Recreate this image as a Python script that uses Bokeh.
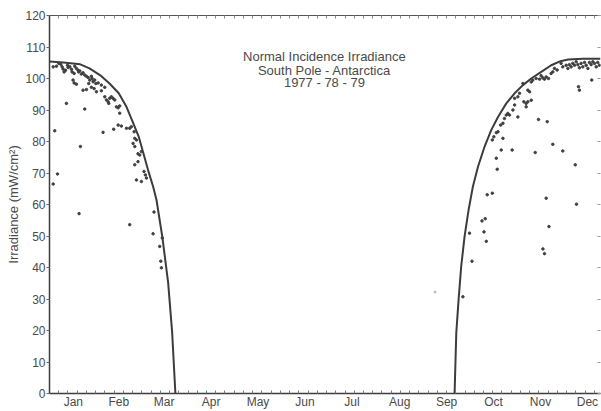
from bokeh.plotting import figure
from bokeh.models import Range1d, FixedTicker, LinearAxis, Label
from bokeh.embed import file_html
from bokeh.resources import INLINE

# ---- data ----
months = ["Jan", "Feb", "Mar", "Apr", "May", "Jun", "Jul", "Aug", "Sep", "Oct", "Nov", "Dec"]
month_mid_days = [15.5, 45, 74.5, 105, 135.5, 166, 196.5, 227.5, 258, 288.5, 319, 349.5]
y_ticks = [0, 10, 20, 30, 40, 50, 60, 70, 80, 90, 100, 110, 120]

title_lines = ["Normal Incidence Irradiance", "South Pole - Antarctica", "1977 - 78 - 79"]

# clear-sky model curve (autumn decline and spring rise)
curve_fall_day = [0, 9, 20, 26, 33, 39, 45, 50, 54, 58, 61, 64, 67.3, 69.5, 73.4, 77.1, 79.7, 81.8]
curve_fall_val = [105.4, 105.1, 104.5, 103.2, 101.0, 98.4, 95.3, 91.0, 86.3, 81.5, 76.3, 71.0, 65.7, 61.5, 49.4, 35.1, 19.3, 0]
curve_rise_day = [263.2, 264.3, 265.8, 267.5, 269.7, 272.3, 275.1, 278.4, 282.7, 287.0, 291.4, 296.8, 302.2,
                  307.6, 313.0, 319.5, 326.0, 332.0, 337.0, 346.6, 358]
curve_rise_val = [0, 19.3, 29.8, 40.4, 49.9, 58.3, 65.7, 72.0, 78.4, 83.6, 87.8, 92.1, 95.3,
                  97.9, 100.0, 102.1, 104.2, 105.5, 106.0, 106.3, 106.3]

# measured irradiance, January - March
obs_fall_day = [2.4, 4.5, 6.0, 7.3, 8.2, 8.8, 9.5, 10.4, 11.7, 12.1, 13.2, 14.3, 14.7, 16.0, 16.4,
                17.5, 18.6, 19.0, 19.7, 20.7, 21.8, 22.9, 24.0, 25.1, 26.2, 27.2, 27.7, 28.3, 29.4,
                30.1, 31.6, 33.7, 35.9, 15.3, 16.0, 17.5, 21.8, 24.0, 25.5, 27.2, 29.0, 30.5, 33.7,
                35.9, 37.0, 38.1, 38.5, 39.1, 40.2, 41.3, 42.4, 43.5, 44.6, 45.6, 45.6, 44.6, 46.7,
                50.0, 52.1, 53.2, 55.0, 55.4, 56.5, 54.3, 55.4, 57.5, 58.6, 59.7, 55.4, 57.5, 56.5,
                59.7, 61.4, 62.3, 63.0, 3.4, 11.0, 22.9, 20.1, 34.8, 41.7, 5.2, 2.4, 19.2, 52.1,
                67.9, 67.3, 73.3, 71.6, 72.3, 72.7]
obs_fall_val = [103.7, 103.9, 104.8, 104.5, 103.7, 103.0, 102.1, 102.6, 104.2, 103.5, 103.7, 102.9, 102.1, 101.6, 103.9,
                103.2, 102.6, 102.1, 102.4, 101.4, 101.8, 101.1, 100.7, 100.3, 99.5, 100.7, 100.0, 99.0, 99.5,
                98.4, 98.6, 97.9, 97.2, 99.5, 98.6, 98.2, 96.3, 96.5, 98.4, 97.2, 96.8, 95.8, 96.1,
                94.2, 93.2, 92.6, 92.1, 93.7, 94.2, 93.7, 93.2, 91.0, 90.7, 91.3, 89.0, 85.2, 84.9,
                84.2, 84.2, 84.7, 83.1, 81.0, 80.5, 79.4, 78.4, 76.1, 75.7, 76.8, 72.6, 73.6, 67.8,
                67.3, 70.5, 69.4, 68.4, 83.4, 92.1, 90.3, 78.4, 82.9, 83.9, 69.7, 66.5, 57.1, 53.6,
                57.6, 50.7, 49.4, 46.7, 42.0, 39.9]

# measured irradiance, September - December
obs_rise_day = [332.4, 333.5, 335.7, 336.8, 337.8, 338.9, 340.0, 341.1, 342.2, 343.3, 344.3, 345.4, 346.5,
                347.6, 348.7, 349.8, 350.8, 351.9, 353.0, 354.1, 355.2, 356.2, 357.3,
                329.8, 328.1, 327.0, 325.9, 324.2, 322.7, 321.6, 320.5, 319.4, 318.4, 316.2, 314.0,
                313.0, 311.9, 310.8, 307.6, 305.4, 304.3, 302.2, 313.0, 310.8, 309.7, 309.7, 308.2,
                304.3, 302.2, 301.1, 298.9, 297.8, 296.8, 295.6, 294.6, 293.1, 291.4, 290.3, 288.7,
                287.7, 294.6, 293.5, 300.6, 290.3, 290.9, 284.4, 287.7, 281.0, 283.1, 282.3, 283.8,
                272.9, 274.5, 268.6, 317.7, 323.4, 315.6, 322.7, 324.5, 320.6, 321.6,
                343.7, 344.3, 352.3, 327.0, 333.5, 341.6, 342.4]
obs_rise_val = [104.8, 103.7, 104.2, 103.2, 104.4, 103.7, 104.8, 104.2, 105.3, 104.4, 103.4, 104.8, 103.7,
                105.1, 104.2, 103.2, 105.1, 104.4, 105.3, 104.8, 103.7, 105.1, 104.2,
                102.7, 103.2, 102.1, 101.6, 100.0, 100.5, 99.8, 100.2, 100.9, 99.8, 100.0, 99.5,
                98.9, 95.8, 96.3, 98.4, 95.3, 94.2, 93.7, 93.1, 92.6, 91.0, 92.1, 92.6,
                87.8, 91.6, 90.0, 88.4, 88.9, 88.4, 87.3, 85.8, 85.2, 83.1, 82.8, 81.5,
                80.5, 81.0, 77.3, 77.3, 74.7, 71.2, 63.1, 63.6, 54.8, 55.5, 51.3, 48.3,
                50.9, 42.0, 30.7, 87.0, 86.3, 76.5, 62.0, 53.0, 45.9, 44.4,
                97.4, 96.3, 99.5, 79.1, 77.0, 72.6, 60.1]

faint_day = [250.5]
faint_val = [32.2]

# ---- styling ----
FONT = "Liberation Sans"
TXT = "#4a4a4a"
INK = "#3c3c3c"

p = figure(width=601, height=411, output_backend="svg", toolbar_location=None,
           x_range=Range1d(0, 358), y_range=Range1d(0, 120),
           min_border_left=49, min_border_top=15, min_border_right=1, min_border_bottom=17,
           x_axis_location=None, y_axis_location=None)
p.outline_line_color = None
p.xgrid.visible = False
p.ygrid.visible = False
p.background_fill_color = "white"
p.border_fill_color = "white"

minor_days = [d for d in range(0, 360, 6)]

# bottom axis (month names)
xb = LinearAxis(ticker=FixedTicker(ticks=month_mid_days, minor_ticks=minor_days))
xb.major_label_overrides = {m: t for m, t in zip(month_mid_days, months)}
xb.major_tick_line_color = None
xb.major_tick_in = 0
xb.major_tick_out = 0
xb.minor_tick_in = 3
xb.minor_tick_out = 0
xb.minor_tick_line_color = "#777777"
xb.axis_line_color = INK
xb.axis_line_width = 1.5
xb.major_label_text_font = FONT
xb.major_label_text_font_size = "12px"
xb.major_label_text_color = TXT
xb.major_label_standoff = 1
p.add_layout(xb, "below")

# top axis (frame line with small ticks, no labels)
xt = LinearAxis(ticker=FixedTicker(ticks=[], minor_ticks=minor_days))
xt.major_tick_in = 0
xt.major_tick_out = 0
xt.minor_tick_in = 3
xt.minor_tick_out = 0
xt.minor_tick_line_color = "#888888"
xt.axis_line_color = "#555555"
xt.axis_line_width = 1.2
p.add_layout(xt, "above")

# left axis
yl = LinearAxis(ticker=FixedTicker(ticks=y_ticks, minor_ticks=[]))
yl.axis_label = "Irradiance (mW/cm²)"
yl.axis_label_text_font = FONT
yl.axis_label_text_font_size = "13px"
yl.axis_label_text_font_style = "normal"
yl.axis_label_text_color = TXT
yl.axis_label_standoff = 1
yl.major_tick_in = 0
yl.major_tick_out = 3
yl.major_tick_line_color = "#666666"
yl.axis_line_color = INK
yl.axis_line_width = 1.5
yl.major_label_text_font = FONT
yl.major_label_text_font_size = "12px"
yl.major_label_text_color = TXT
yl.major_label_standoff = 1
p.add_layout(yl, "left")

# right axis (tick marks only, no labels)
yr = LinearAxis(ticker=FixedTicker(ticks=[], minor_ticks=y_ticks))
yr.major_tick_in = 0
yr.major_tick_out = 0
yr.minor_tick_in = 3
yr.minor_tick_out = 0
yr.minor_tick_line_color = "#999999"
yr.axis_line_color = None
p.add_layout(yr, "right")

# curves
p.line(curve_fall_day, curve_fall_val, line_width=2, line_color=INK)
p.line(curve_rise_day, curve_rise_val, line_width=2, line_color=INK)

# observations
p.scatter(obs_fall_day, obs_fall_val, size=2.5, marker="circle", color="#404040")
p.scatter(obs_rise_day, obs_rise_val, size=2.5, marker="circle", color="#404040")
p.scatter(faint_day, faint_val, size=2, marker="circle", color="#bbbbbb")

# title block inside plot
for txt, yv in zip(title_lines, [107.1, 102.4, 98.8]):
    p.add_layout(Label(x=178.6, y=yv, text=txt, text_align="center", text_baseline="middle",
                       text_font=FONT, text_font_size="13px", text_color=TXT))

open("out.html", "w").write(file_html(p, INLINE))
